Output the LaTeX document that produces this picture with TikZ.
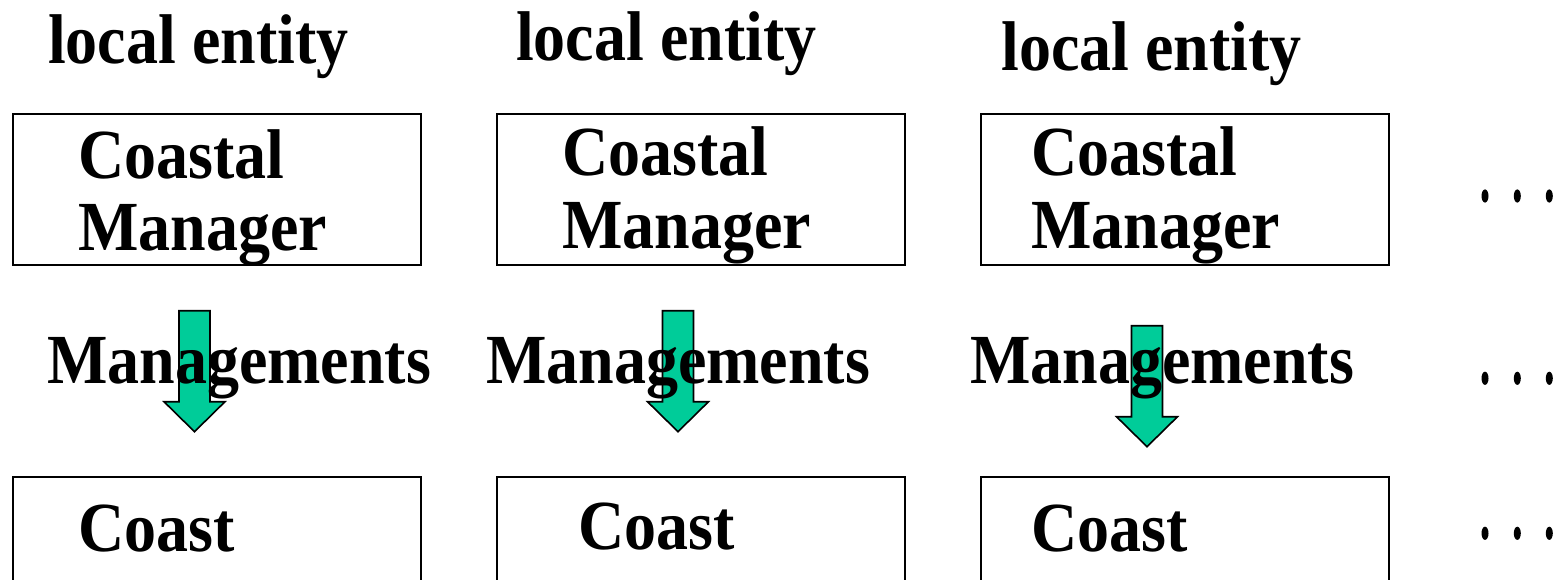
\documentclass[tikz,border=0pt]{standalone}
\usepackage{fontspec}
\setmainfont{Liberation Serif}
\usepackage{graphicx}
\definecolor{arrowgreen}{RGB}{0,204,153}
\newcommand{\vs}[1]{\scalebox{1}[1.1]{#1}}
\tikzset{
  lbl/.style={anchor=base west, inner sep=0pt, font=\fontsize{64}{76}\selectfont\bfseries},
  box/.style={draw, line width=2pt, minimum width=408pt, minimum height=151pt, inner sep=0pt},
  blk/.style={fill=arrowgreen, draw=black, line width=1.6pt, line join=miter},
  downarrow/.pic={\draw[blk] (-15.5,0) -- (15.5,0) -- (15.5,91) -- (30.5,91) -- (0,121) -- (-30.5,91) -- (-15.5,91) -- cycle;},
  dotmark/.style={fill=black}
}
\begin{document}
\begin{tikzpicture}[x=1pt,y=-1pt]
\useasboundingbox (0,0) rectangle (1556,580);
\clip (0,0) rectangle (1556,580);
% boxes
\node[box] (cm1) at (217,189.5) {};
\node[box] (cm2) at (701,189.5) {};
\node[box] (cm3) at (1185,189.5) {};
\node[box] (co1) at (217,552.5) {};
\node[box] (co2) at (701,552.5) {};
\node[box] (co3) at (1185,552.5) {};
% block arrows
\pic at (194.5,310.7) {downarrow};
\pic at (678,310.7) {downarrow};
\pic at (1147,325.7) {downarrow};
% top labels
\node[lbl] (le1) at (48,64) {\vs{local entity}};
\node[lbl] (le2) at (516,61) {\vs{local entity}};
\node[lbl] (le3) at (1001,71) {\vs{local entity}};
% box texts
\node[lbl] (ca1) at (78,179) {\vs{Coastal}};
\node[lbl] (ma1) at (78,251) {\vs{Manager}};
\node[lbl] (ca2) at (562,176) {\vs{Coastal}};
\node[lbl] (ma2) at (562,248) {\vs{Manager}};
\node[lbl] (ca3) at (1031,176) {\vs{Coastal}};
\node[lbl] (ma3) at (1031,248) {\vs{Manager}};
% managements
\node[lbl] (mg1) at (47,383) {\vs{Managements}};
\node[lbl] (mg2) at (486,383) {\vs{Managements}};
\node[lbl] (mg3) at (970,383) {\vs{Managements}};
% coast
\node[lbl] (cs1) at (78,551) {\vs{Coast}};
\node[lbl] (cs2) at (578,549) {\vs{Coast}};
\node[lbl] (cs3) at (1031,551) {\vs{Coast}};
% ellipsis dots
\foreach \yy in {196,378.3,533.3}{
  \foreach \xx in {1485,1517.3,1549.3}{
    \fill[dotmark] (\xx,\yy) ellipse [x radius=3.5pt, y radius=6.6pt];
  }
}
\end{tikzpicture}
\end{document}
